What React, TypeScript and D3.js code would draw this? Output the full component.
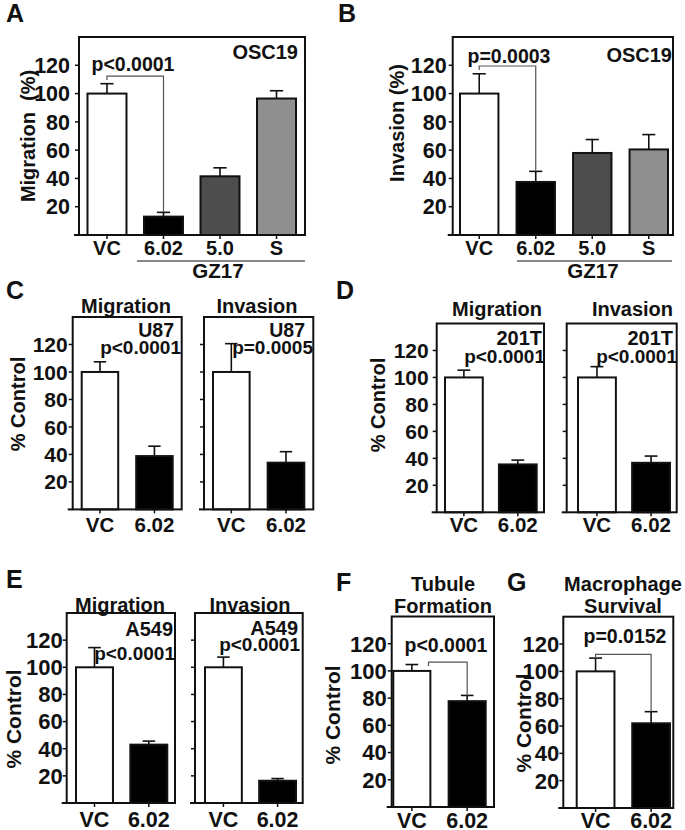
import React from "react";
import * as d3 from "d3";

const FONT = "'Liberation Sans', Arial, Helvetica, sans-serif";

// ---- data ----
const catsA = ["VC", "6.02", "5.0", "S"];
const catsPair = ["VC", "6.02"];
const yTicks = [20, 40, 60, 80, 100, 120];

const osc19Migration = [100, 13, 41.5, 96.5];
const osc19MigrationErr = [7, 3, 6, 5.5];
const osc19Invasion = [100, 37.5, 58, 60.5];
const osc19InvasionErr = [14, 7.5, 9.5, 10.5];

const u87Migration = [100, 38.8];
const u87MigrationErr = [7.4, 7.2];
const u87Invasion = [100, 34];
const u87InvasionErr = [20.6, 8];

const t201Migration = [100, 35.5];
const t201MigrationErr = [5.4, 3.2];
const t201Invasion = [100, 36.7];
const t201InvasionErr = [8, 5];

const a549Migration = [100, 43];
const a549MigrationErr = [14.5, 2.6];
const a549Invasion = [100, 16.4];
const a549InvasionErr = [7.5, 1.6];

const tubuleFormation = [100, 77.8];
const tubuleFormationErr = [4.7, 4.2];
const macrophageSurvival = [100, 62];
const macrophageSurvivalErr = [9.7, 8.5];

const fillsA = ["#ffffff", "#000000", "#4d4d4d", "#8f8f8f"];
const fillsPair = ["#ffffff", "#000000"];

type Bracket = { level: number; leftFrac: number };
type Sub = {
  x0: number; x1: number; yTop: number; yBot: number;
  bx0: number; bx1: number; pad: number;
  cats: string[]; values: number[]; errs: number[]; fills: string[];
  tickLabels: boolean; tickFs: number; tickGap: number;
  xlabY: number; xlabFs: number;
  bracket?: Bracket;
};

function SubPanel({ p }: { p: Sub }) {
  const y = d3.scaleLinear().domain([0, 140]).range([p.yBot, p.yTop]);
  const x = d3.scaleBand<string>().domain(p.cats).range([p.bx0, p.bx1]).paddingInner(p.pad).paddingOuter(0);
  const bw = x.bandwidth();
  const capW = bw * 0.34;
  const cx = (c: string) => (x(c) as number) + bw / 2;
  let bracketPath = "";
  if (p.bracket) {
    const b = p.bracket;
    const xl = (x(p.cats[0]) as number) + bw * b.leftFrac;
    const xr = cx(p.cats[1]);
    const yl = y(b.level);
    bracketPath = `M${xl},${yl + 4}V${yl}H${xr}V${y(p.values[1] + p.errs[1])}`;
  }
  return (
    <g>
      {p.cats.map((c, i) => (
        <g key={c}>
          <line x1={cx(c)} x2={cx(c)} y1={y(p.values[i])} y2={y(p.values[i] + p.errs[i])} stroke="#111" strokeWidth={1.6} />
          <line x1={cx(c) - capW / 2} x2={cx(c) + capW / 2} y1={y(p.values[i] + p.errs[i])} y2={y(p.values[i] + p.errs[i])} stroke="#111" strokeWidth={1.6} />
          <rect x={x(c)} y={y(p.values[i])} width={bw} height={y(0) - y(p.values[i])} fill={p.fills[i]} stroke="#111" strokeWidth={2} />
        </g>
      ))}
      {bracketPath && <path d={bracketPath} fill="none" stroke="#555" strokeWidth={1.2} />}
      <rect x={p.x0} y={p.yTop} width={p.x1 - p.x0} height={p.yBot - p.yTop} fill="none" stroke="#111" strokeWidth={2} />
      <line x1={p.x0 - 5} x2={p.x0} y1={p.yBot} y2={p.yBot} stroke="#111" strokeWidth={2} />
      {yTicks.map((t) => (
        <g key={t}>
          <line x1={p.x0 - 4} x2={p.x0} y1={y(t)} y2={y(t)} stroke="#111" strokeWidth={1.5} />
          {p.tickLabels && (
            <text x={p.x0 - 4 - p.tickGap} y={y(t)} dy="0.36em" textAnchor="end" fontSize={p.tickFs} fontWeight="bold" fontFamily={FONT} fill="#111">{t}</text>
          )}
        </g>
      ))}
      {p.cats.map((c) => (
        <g key={"x" + c}>
          <line x1={cx(c)} x2={cx(c)} y1={p.yBot} y2={p.yBot + 4} stroke="#111" strokeWidth={1.5} />
          <text x={cx(c)} y={p.xlabY} textAnchor="middle" fontSize={p.xlabFs} fontWeight="bold" fontFamily={FONT} fill="#111">{c}</text>
        </g>
      ))}
    </g>
  );
}

const subs: Sub[] = [
  { x0: 79, x1: 305, yTop: 37, yBot: 235, bx0: 87.5, bx1: 296, pad: 0.31, cats: catsA, values: osc19Migration, errs: osc19MigrationErr, fills: fillsA, tickLabels: true, tickFs: 21.5, tickGap: 5, xlabY: 255, xlabFs: 20, bracket: { level: 112.4, leftFrac: 0.5 } },
  { x0: 452.7, x1: 673, yTop: 37, yBot: 235, bx0: 460, bx1: 668, pad: 0.32, cats: catsA, values: osc19Invasion, errs: osc19InvasionErr, fills: fillsA, tickLabels: true, tickFs: 21.5, tickGap: 2, xlabY: 255, xlabFs: 20, bracket: { level: 119.5, leftFrac: 0.5 } },
  { x0: 72.7, x1: 181.7, yTop: 317, yBot: 509.4, bx0: 81.7, bx1: 172.7, pad: 0.33, cats: catsPair, values: u87Migration, errs: u87MigrationErr, fills: fillsPair, tickLabels: true, tickFs: 21, tickGap: 1, xlabY: 531.7, xlabFs: 20.5 },
  { x0: 204, x1: 313.3, yTop: 317, yBot: 509.4, bx0: 213, bx1: 304.3, pad: 0.33, cats: catsPair, values: u87Invasion, errs: u87InvasionErr, fills: fillsPair, tickLabels: false, tickFs: 21, tickGap: 1, xlabY: 531.7, xlabFs: 20.5 },
  { x0: 436.7, x1: 544, yTop: 323.5, yBot: 512.3, bx0: 445, bx1: 536.7, pad: 0.3, cats: catsPair, values: t201Migration, errs: t201MigrationErr, fills: fillsPair, tickLabels: true, tickFs: 21, tickGap: 4, xlabY: 532, xlabFs: 20.5 },
  { x0: 566.7, x1: 676.7, yTop: 323.5, yBot: 512.3, bx0: 578, bx1: 670, pad: 0.3, cats: catsPair, values: t201Invasion, errs: t201InvasionErr, fills: fillsPair, tickLabels: false, tickFs: 21, tickGap: 4, xlabY: 532, xlabFs: 20.5 },
  { x0: 66.7, x1: 175, yTop: 613, yBot: 803, bx0: 76, bx1: 167.3, pad: 0.32, cats: catsPair, values: a549Migration, errs: a549MigrationErr, fills: fillsPair, tickLabels: true, tickFs: 22, tickGap: 0, xlabY: 826.7, xlabFs: 21.5 },
  { x0: 195, x1: 302.7, yTop: 613, yBot: 803, bx0: 205, bx1: 296, pad: 0.32, cats: catsPair, values: a549Invasion, errs: a549InvasionErr, fills: fillsPair, tickLabels: false, tickFs: 22, tickGap: 0, xlabY: 826.7, xlabFs: 21.5 },
  { x0: 391.7, x1: 494, yTop: 616.5, yBot: 807, bx0: 393.3, bx1: 485.7, pad: 0.33, cats: catsPair, values: tubuleFormation, errs: tubuleFormationErr, fills: fillsPair, tickLabels: true, tickFs: 22, tickGap: 1, xlabY: 828, xlabFs: 21.5, bracket: { level: 106.5, leftFrac: 0.95 } },
  { x0: 563.3, x1: 673.3, yTop: 616.7, yBot: 808, bx0: 576.7, bx1: 670, pad: 0.32, cats: catsPair, values: macrophageSurvival, errs: macrophageSurvivalErr, fills: fillsPair, tickLabels: true, tickFs: 22, tickGap: 0, xlabY: 828, xlabFs: 21.5, bracket: { level: 112.4, leftFrac: 0.5 } },
];

type T = { x: number; y: number; t: string; fs: number; a?: "start" | "middle" | "end" };
const texts: T[] = [
  // panel letters
  { x: 6, y: 22, t: "A", fs: 25, a: "start" },
  { x: 338, y: 22, t: "B", fs: 25, a: "start" },
  { x: 6, y: 299, t: "C", fs: 25, a: "start" },
  { x: 336, y: 299, t: "D", fs: 25, a: "start" },
  { x: 6, y: 588, t: "E", fs: 25, a: "start" },
  { x: 336, y: 591, t: "F", fs: 25, a: "start" },
  { x: 507, y: 591, t: "G", fs: 25, a: "start" },
  // A, B
  { x: 298, y: 59, t: "OSC19", fs: 20, a: "end" },
  { x: 133, y: 70.7, t: "p<0.0001", fs: 19.5, a: "middle" },
  { x: 672, y: 62, t: "OSC19", fs: 20, a: "end" },
  { x: 509, y: 62.7, t: "p=0.0003", fs: 19.5, a: "middle" },
  { x: 218, y: 278, t: "GZ17", fs: 20.5, a: "middle" },
  { x: 593, y: 278, t: "GZ17", fs: 20.5, a: "middle" },
  // C
  { x: 126, y: 312.5, t: "Migration", fs: 20, a: "middle" },
  { x: 257, y: 312.5, t: "Invasion", fs: 20, a: "middle" },
  { x: 174, y: 336.7, t: "U87", fs: 19.5, a: "end" },
  { x: 181, y: 354, t: "p<0.0001", fs: 19, a: "end" },
  { x: 305, y: 336.7, t: "U87", fs: 19.5, a: "end" },
  { x: 313, y: 354, t: "p=0.0005", fs: 19, a: "end" },
  // D
  { x: 497, y: 316, t: "Migration", fs: 20, a: "middle" },
  { x: 632.5, y: 316, t: "Invasion", fs: 20, a: "middle" },
  { x: 542, y: 345, t: "201T", fs: 20, a: "end" },
  { x: 545, y: 363, t: "p<0.0001", fs: 19, a: "end" },
  { x: 673, y: 345, t: "201T", fs: 20, a: "end" },
  { x: 677, y: 363, t: "p<0.0001", fs: 19, a: "end" },
  // E
  { x: 120, y: 611.7, t: "Migration", fs: 20, a: "middle" },
  { x: 250, y: 611.7, t: "Invasion", fs: 20, a: "middle" },
  { x: 173, y: 636, t: "A549", fs: 20, a: "end" },
  { x: 175, y: 660, t: "p<0.0001", fs: 19, a: "end" },
  { x: 298, y: 635, t: "A549", fs: 20, a: "end" },
  { x: 300, y: 651, t: "p<0.0001", fs: 19, a: "end" },
  // F, G
  { x: 443, y: 591, t: "Tubule", fs: 20, a: "middle" },
  { x: 443, y: 613, t: "Formation", fs: 20, a: "middle" },
  { x: 446, y: 651.7, t: "p<0.0001", fs: 19.5, a: "middle" },
  { x: 623, y: 591, t: "Macrophage", fs: 20, a: "middle" },
  { x: 623, y: 613, t: "Survival", fs: 20, a: "middle" },
  { x: 625, y: 642.7, t: "p=0.0152", fs: 19.5, a: "middle" },
];

const yLabels: T[] = [
  { x: 28, y: 136, t: "Migration  (%)", fs: 20 },
  { x: 397, y: 123, t: "Invasion (%)", fs: 20 },
  { x: 18, y: 404, t: "% Control", fs: 20 },
  { x: 378, y: 405, t: "% Control", fs: 20 },
  { x: 13, y: 719, t: "% Control", fs: 21 },
  { x: 332, y: 715, t: "% Control", fs: 21 },
  { x: 523, y: 723, t: "% Control", fs: 21 },
];

export default function App() {
  return (
    <svg width={685} height={830} style={{ position: "absolute", left: 0, top: 0, background: "#fff" }}>
      <rect x={0} y={0} width={685} height={830} fill="#fff" />
      {subs.map((p, i) => <SubPanel key={i} p={p} />)}
      <line x1={137} x2={305} y1={261} y2={261} stroke="#111" strokeWidth={1.2} />
      <line x1={517} x2={672} y1={261} y2={261} stroke="#111" strokeWidth={1.2} />
      {texts.map((d, i) => (
        <text key={i} x={d.x} y={d.y} textAnchor={d.a} fontSize={d.fs} fontWeight="bold" fontFamily={FONT} fill="#111">{d.t}</text>
      ))}
      {yLabels.map((d, i) => (
        <text key={"yl" + i} transform={`translate(${d.x},${d.y}) rotate(-90)`} textAnchor="middle" dominantBaseline="central" fontSize={d.fs} fontWeight="bold" fontFamily={FONT} fill="#111" style={{ whiteSpace: "pre" }}>{d.t}</text>
      ))}
    </svg>
  );
}
